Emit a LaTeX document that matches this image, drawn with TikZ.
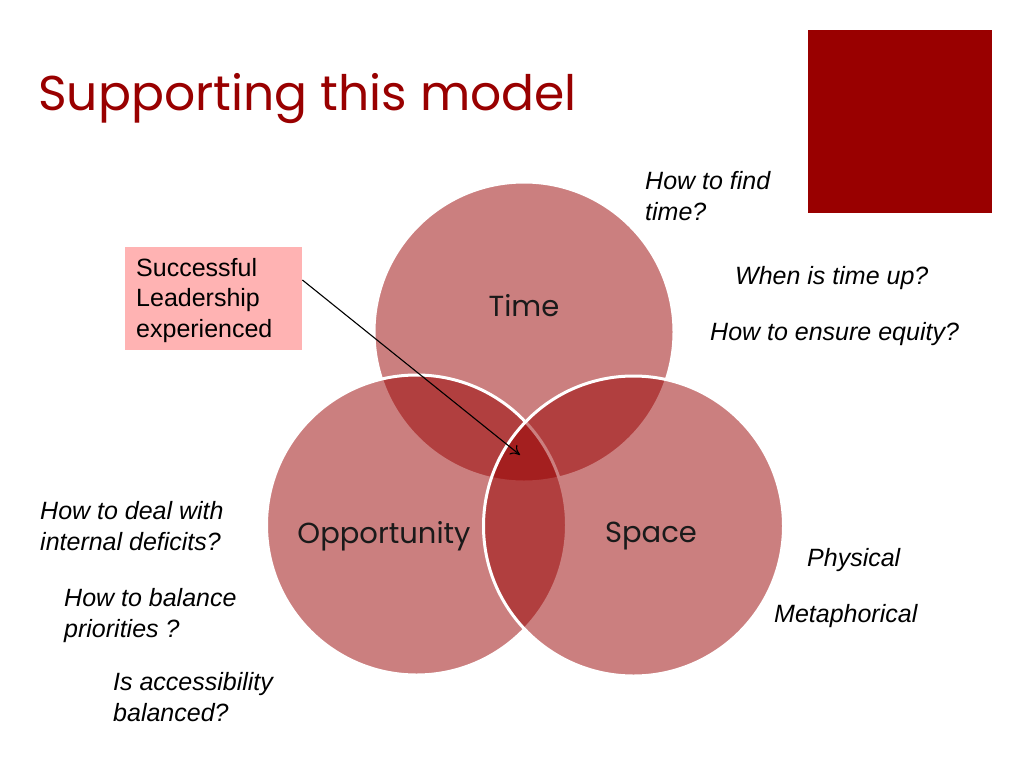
\documentclass[tikz,border=0pt]{standalone}
\usepackage{fontspec}
\setmainfont{Liberation Sans}
\newfontfamily\gothic{Poppins}
\usetikzlibrary{arrows.meta}
\definecolor{darkred}{HTML}{990000}
\definecolor{boxpink}{HTML}{FFB3B3}
\definecolor{labelgray}{HTML}{1A1A1A}
\tikzset{
  venn/.style={circle, minimum size=300pt, inner sep=0pt, fill=darkred, fill opacity=0.5, draw=white, line width=3pt},
  vennlabel/.style={text=labelgray, font=\gothic\fontsize{29}{33}\selectfont, inner sep=0pt},
  question/.style={anchor=west, align=left, inner sep=0pt, font=\itshape\fontsize{25}{31}\selectfont},
}
\begin{document}
\begin{tikzpicture}[x=1pt,y=-1pt]
\useasboundingbox (0,0) rectangle (1024,768);
\fill[white] (0,0) rectangle (1024,768);
% title and corner square
\node[anchor=base west, inner sep=0pt, text=darkred, font=\gothic\fontsize{48.8}{56}\selectfont] (title) at (38,110) {Supporting this model};
\fill[darkred] (808,30) rectangle (992,213);
% circles
\node[venn] (time) at (524,332) {};
\node[venn] (opp) at (416.5,525) {};
\node[venn] (space) at (633.5,526) {};
\node[vennlabel] (timel) at (524,306) {Time};
\node[vennlabel] (oppl) at (384,536) {Opportunity};
\node[vennlabel] (spacel) at (651,536) {Space};
% box
\node[anchor=north west, fill=boxpink, minimum width=177pt, minimum height=103pt, inner sep=0pt] (box) at (125,247) {};
\node[anchor=west, align=left, inner sep=0pt, font=\fontsize{25}{30.5}\selectfont] (boxt) at (136,300.5) {Successful\\Leadership\\experienced};
\coordinate (tip) at (520,455);
\draw[line width=1.1pt, -{To[length=9pt,width=12pt]}] (box.east |- 0,280) -- (tip);
% questions
\node[question] (q1) at (645,196) {How to find\\time?};
\node[question] (q2) at (735,278.5) {When is time up?};
\node[question] (q3) at (710,334.5) {How to ensure equity?};
\node[question] (q4) at (40,526.5) {How to deal with\\internal deficits?};
\node[question] (q5) at (64,616) {How to balance\\priorities ?};
\node[question] (q6) at (113,697.5) {Is accessibility\\balanced?};
\node[question] (q7) at (807,560) {Physical};
\node[question] (q8) at (774,616) {Metaphorical};
\end{tikzpicture}
\end{document}
